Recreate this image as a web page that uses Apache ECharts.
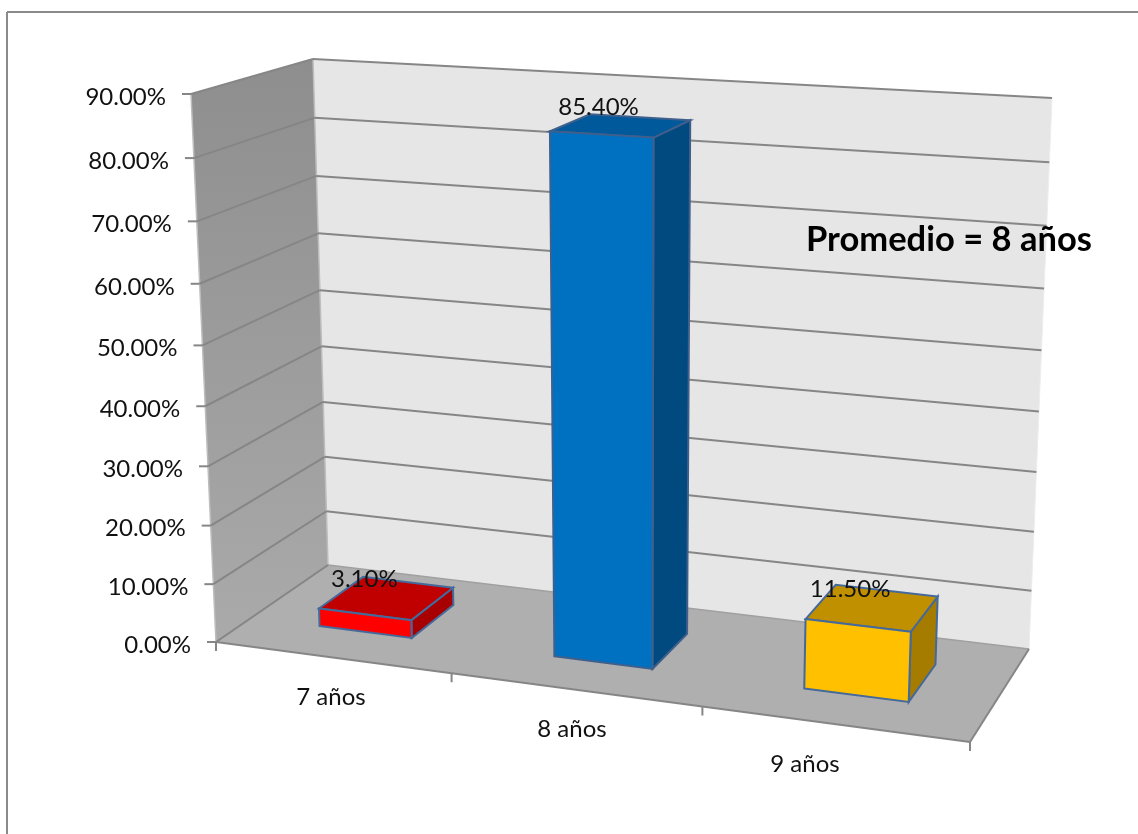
<!DOCTYPE html>
<html><head><meta charset="utf-8">
<style>html,body{margin:0;padding:0;background:#fff}#c{width:1138px;height:834px}</style>
<script src="https://cdn.jsdelivr.net/npm/echarts@6/dist/echarts.min.js"></script>
</head><body><div id="c"></div>
<script>
const categories = ['7 años','8 años','9 años'];
const percentValues = [3.1, 85.4, 11.5];
const valueLabels = ['3.10%','85.40%','11.50%'];
const yTicks = [0,10,20,30,40,50,60,70,80,90];
const yTickLabels = ['0.00%','10.00%','20.00%','30.00%','40.00%','50.00%','60.00%','70.00%','80.00%','90.00%'];
const noteText = 'Promedio = 8 años';

const W = 1138, H = 834, FONT = 'Lato, "Open Sans", sans-serif';
const faceColors = [
  {front:'#FF0000', top:'#C00000', side:'#A80000', edge:'#44699A'},
  {front:'#0070C0', top:'#00599B', side:'#004A80', edge:'#3F5F8C'},
  {front:'#FFC000', top:'#C09000', side:'#A67C00', edge:'#44699A'}
];
const catLabelDx = [-1,-3,-29];

// perspective box: unit-square -> screen homographies for the front and back planes
function homography(q){ // q: (0,0),(1,0),(0,1),(1,1) images
  const [p0,p1,p2,p3]=q;
  const dx1=p1[0]-p3[0],dx2=p2[0]-p3[0],sx=p0[0]-p1[0]-p2[0]+p3[0];
  const dy1=p1[1]-p3[1],dy2=p2[1]-p3[1],sy=p0[1]-p1[1]-p2[1]+p3[1];
  const den=dx1*dy2-dx2*dy1;
  const g=(sx*dy2-dx2*sy)/den,h=(dx1*sy-sx*dy1)/den;
  const a=p1[0]-p0[0]+g*p1[0],b=p2[0]-p0[0]+h*p2[0],c=p0[0];
  const d=p1[1]-p0[1]+g*p1[1],e=p2[1]-p0[1]+h*p2[1],f=p0[1];
  return (u,v)=>{const w=g*u+h*v+1;return [(a*u+b*v+c)/w,(d*u+e*v+f)/w];};
}
const HF=homography([[216,642],[970,742],[191,94],[992,142]]);
const HB=homography([[328,565],[1029,649],[313,59],[1052,98]]);
function P(u,v,d){const a=HF(u,v),b=HB(u,v);return [a[0]+(b[0]-a[0])*d,a[1]+(b[1]-a[1])*d];}
function norm(api,cat,val){const c=api.coord([cat,val]);return [c[0]/W,(H-c[1])/H];}
function vOf(api,val){return norm(api,0,val)[1];}
const poly=(points,fill,stroke,lw)=>({type:'polygon',shape:{points},style:{fill,stroke:stroke||null,lineWidth:lw||0}});
const line=(a,b,stroke,lw)=>({type:'line',shape:{x1:a[0],y1:a[1],x2:b[0],y2:b[1]},style:{stroke,lineWidth:lw,fill:null}});
const txt=(text,x,y,align,size,weight)=>({type:'text',style:{text,x,y,align,verticalAlign:'middle',font:(weight||'normal')+' '+size+'px '+FONT,fill:'#111'}});

function renderFrame(params,api){
  const v1=vOf(api,90);
  const c=[];
  c.push(poly([P(0,0,1),P(1,0,1),P(1,v1,1),P(0,v1,1)],'#E6E6E6'));
  c.push(poly([P(0,0,0),P(0,0,1),P(0,v1,1),P(0,v1,0)],{type:'linear',x:0,y:0,x2:0,y2:1,colorStops:[{offset:0,color:'#8E8E8E'},{offset:1,color:'#AAAAAA'}]}));
  c.push(poly([P(0,0,0),P(1,0,0),P(1,0,1),P(0,0,1)],'#AFAFAF'));
  c.push(line(P(0,0,0),P(0,v1,0),'#BDBDBD',1.5));
  c.push(line(P(0,0,1),P(0,v1,1),'#BDBDBD',1.5));
  c.push(line(P(1,0,1),P(1,v1,1),'#EDEDED',1));
  return {type:'group',children:c};
}
function renderGrid(params,api){
  const val=api.value(0), v=vOf(api,val), c=[];
  const a=P(0,v,0),b=P(0,v,1),e=P(1,v,1);
  if(val>0) c.push(line(b,e,'#868686',2));
  c.push(line(a,b,'#868686',2));
  c.push(line([a[0]-9,a[1]],a,'#868686',2));
  c.push(txt(yTickLabels[params.dataIndex],a[0]-25,a[1]+3,'right',24));
  return {type:'group',children:c};
}
function renderFloorAxis(params,api){
  const c=[],n=categories.length;
  c.push(line(P(0,0,0),P(1,0,0),'#868686',2));
  c.push(line(P(0,0,1),P(1,0,1),'#A0A0A0',1.5));
  c.push(line(P(1,0,0),P(1,0,1),'#868686',2));
  c.push(line(P(0,0,0),P(0,0,1),'#A0A0A0',1.2));
  for(let i=0;i<=n;i++){const p=P(i/n,0,0);c.push(line(p,[p[0],p[1]+9],'#868686',2));}
  return {type:'group',children:c};
}
function renderCatLabel(params,api){
  const i=api.value(0);const p=norm(api,i,0);const q=P(p[0],0,0);
  return txt(categories[i],q[0]+catLabelDx[i],q[1]+40,'center',24);
}
function renderBar(params,api){
  const i=api.value(0),val=api.value(1);
  const base=norm(api,i,0);const v=norm(api,i,val)[1];
  const half=api.size([1,0])[0]*0.2/W;
  const u0=base[0]-half,u1=base[0]+half,d0=0.32,d1=0.73;
  const col=faceColors[i];const s=col.edge,lw=2;
  const front=[P(u0,0,d0),P(u1,0,d0),P(u1,v,d0),P(u0,v,d0)];
  const top=[P(u0,v,d0),P(u1,v,d0),P(u1,v,d1),P(u0,v,d1)];
  const side=[P(u1,0,d0),P(u1,0,d1),P(u1,v,d1),P(u1,v,d0)];
  return {type:'group',children:[poly(side,col.side,s,lw),poly(top,col.top,s,lw),poly(front,col.front,s,lw)]};
}
function renderValueLabel(params,api){
  const i=api.value(0),val=api.value(1);
  const base=norm(api,i,0);const v=norm(api,i,val)[1];
  const q=P(base[0],v,(0.32+0.73)/2);
  return txt(valueLabels[i],q[0]-22,q[1]-19,'center',24);
}
const custom=(name,renderItem,data,z)=>({type:'custom',name,renderItem,data,z,silent:true,clip:false,animation:false,coordinateSystem:'cartesian2d'});
const barData=percentValues.map((v,i)=>[i,v]);
const chart=echarts.init(document.getElementById('c'),null,{renderer:'canvas'});
chart.setOption({
  animation:false,
  backgroundColor:'#fff',
  grid:{left:0,top:0,width:W,height:H,containLabel:false},
  xAxis:{type:'category',data:categories,show:false},
  yAxis:{type:'value',min:0,max:90,interval:10,show:false},
  graphic:[
    {type:'line',shape:{x1:7,y1:12,x2:7,y2:834},style:{stroke:'#8A8A8A',lineWidth:2},z:100},
    {type:'line',shape:{x1:7,y1:12,x2:1138,y2:12},style:{stroke:'#8A8A8A',lineWidth:2},z:100},
    {type:'text',left:806,top:222,style:{text:noteText,font:'bold 34.5px '+FONT,fill:'#000'},z:100}
  ],
  series:[
    custom('frame',renderFrame,[[0,0]],1),
    custom('floorAxis',renderFloorAxis,[[0,0]],2),
    custom('grid',renderGrid,yTicks.map(t=>[t]),3),
    custom('bars',renderBar,barData,4),
    custom('valueLabels',renderValueLabel,barData,5),
    custom('catLabels',renderCatLabel,categories.map((c,i)=>[i,0]),5)
  ]
});
</script></body></html>
